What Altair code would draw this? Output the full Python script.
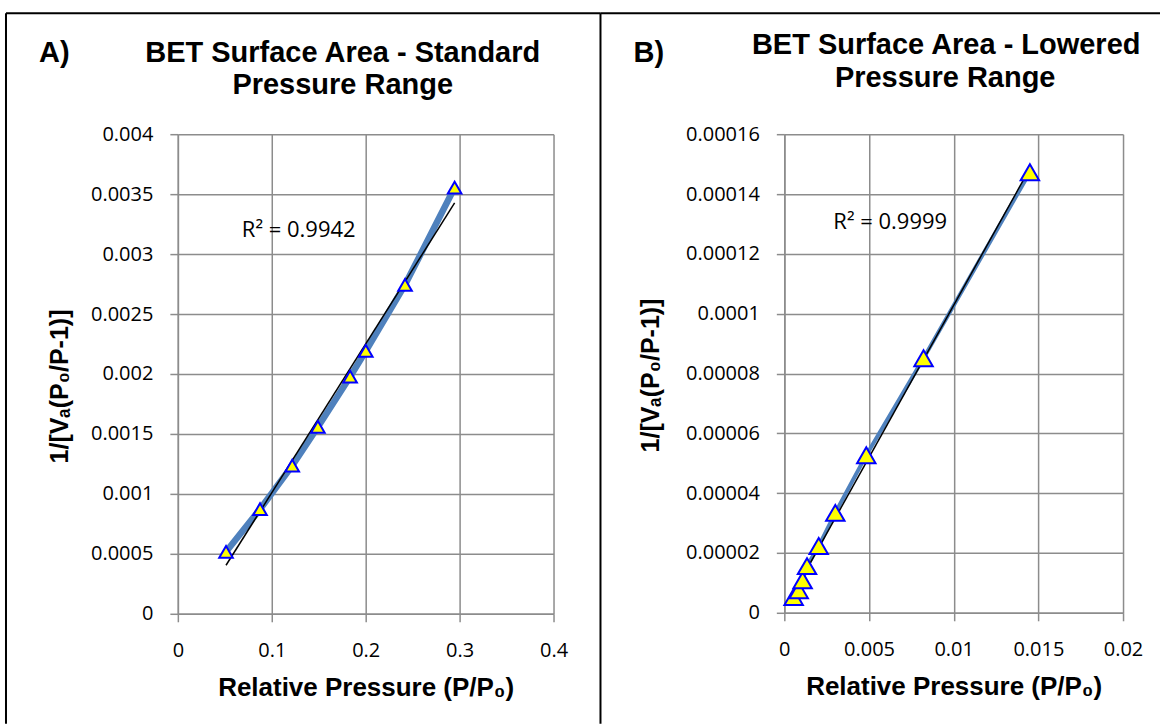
import altair as alt
import pandas as pd

# ---------------- data ----------------
a_x = [0.0513, 0.0875, 0.1218, 0.1491, 0.1834, 0.2001, 0.2419, 0.2947]
a_y = [0.000517, 0.000872, 0.001236, 0.001558, 0.001978, 0.002192, 0.002744, 0.003555]

b_x = [0.00055, 0.00085, 0.00108, 0.00134, 0.00203, 0.00301, 0.00484, 0.00822, 0.0145]
b_y = [0.0000053, 0.0000075, 0.0000109, 0.0000156, 0.0000223, 0.0000334, 0.0000527, 0.0000851, 0.0001473]

a_xticks = [0, 0.1, 0.2, 0.3, 0.4]
a_yticks = [0, 0.0005, 0.001, 0.0015, 0.002, 0.0025, 0.003, 0.0035, 0.004]
b_xticks = [0, 0.005, 0.01, 0.015, 0.02]
b_yticks = [0, 0.00002, 0.00004, 0.00006, 0.00008, 0.0001, 0.00012, 0.00014, 0.00016]

a_title = ["BET Surface Area - Standard", "Pressure Range"]
b_title = ["BET Surface Area - Lowered", "Pressure Range"]
a_tag, b_tag = "A)", "B)"
a_r2, b_r2 = "R² = 0.9942", "R² = 0.9999"
x_title = "Relative Pressure (P/P₀)"
y_title = "1/[Vₐ(P₀/P-1)]"

# ---------------- styling ----------------
GRID = "#8c8c8c"
BLUE = "#4f81bd"
TICKFONT = "Open Sans"
TITLEFONT = "Liberation Sans"


def make_axis(values, orient, title_x=None, title_y=None):
    kw = dict(
        values=values, format="~g", grid=True, gridColor=GRID, gridWidth=1.5,
        domainColor=GRID, domainWidth=1.5, tickColor=GRID, tickWidth=1.5, tickSize=8,
        labelFont=TICKFONT, labelFontSize=20, labelColor="black",
        labelOverlap=False, labelFlush=False,
        title=x_title if orient == "x" else y_title,
        titleFont=TITLEFONT, titleFontWeight="bold", titleFontSize=26 if orient == "x" else 25,
        titleColor="black", titleBaseline="alphabetic",
    )
    if orient == "x":
        kw.update(labelBaseline="alphabetic", labelPadding=35, titleY=title_y)
    else:
        kw.update(labelPadding=17, titleX=title_x, titleY=title_y, titleAngle=270)
    return alt.Axis(**kw)


def text_layer(txt, x, y, size, font, weight, align="center", baseline="alphabetic"):
    return alt.Chart(pd.DataFrame({"t": [txt]})).mark_text(
        font=font, fontSize=size, fontWeight=weight, align=align,
        baseline=baseline, color="black"
    ).encode(x=alt.value(x), y=alt.value(y), text="t:N")


def rule_v(x, y1, y2):
    return alt.Chart(pd.DataFrame({"k": [0]})).mark_rule(color="black", strokeWidth=2).encode(
        x=alt.value(x), y=alt.value(y1), y2=alt.value(y2))


def rule_h(y, x1, x2):
    return alt.Chart(pd.DataFrame({"k": [0]})).mark_rule(color="black", strokeWidth=2).encode(
        y=alt.value(y), x=alt.value(x1), x2=alt.value(x2))


def panel(xs, ys, xticks, yticks, width, height, line_w, pt_size,
          ytitle_x, ytitle_y, title, tag, r2, r2pos, tpos, borders):
    df = pd.DataFrame({"x": xs, "y": ys})
    xenc = alt.X("x:Q", scale=alt.Scale(domain=[xticks[0], xticks[-1]], nice=False, zero=False),
                 axis=make_axis(xticks, "x", title_y=82))
    yenc = alt.Y("y:Q", scale=alt.Scale(domain=[yticks[0], yticks[-1]], nice=False, zero=False),
                 axis=make_axis(yticks, "y", title_x=ytitle_x, title_y=ytitle_y))
    base = alt.Chart(df)
    line = base.mark_line(color=BLUE, strokeWidth=line_w).encode(x=xenc, y=yenc)
    trend = base.transform_regression("x", "y", method="linear").mark_line(
        color="black", strokeWidth=1.5).encode(x="x:Q", y="y:Q")
    pts = base.mark_point(shape="triangle-up", filled=True, fill="#ffff00", stroke="#0000ff",
                          strokeWidth=2, size=pt_size, opacity=1).encode(x="x:Q", y="y:Q")
    layers = [line, trend, pts,
              text_layer(r2, r2pos[0], r2pos[1], 22, TICKFONT, "normal", baseline="middle"),
              text_layer(tag, tpos[0], tpos[1], 29, TITLEFONT, "bold", align="left"),
              text_layer(title[0], tpos[2], tpos[3], 29, TITLEFONT, "bold"),
              text_layer(title[1], tpos[4], tpos[5], 29, TITLEFONT, "bold")]
    layers += borders
    return alt.layer(*layers).properties(width=width, height=height)


chart_a = panel(a_x, a_y, a_xticks, a_yticks, 376, 480, 6.5, 185,
                -110, 252, a_title, a_tag, a_r2, (121, 96),
                (-139, -72, 165, -72, 165, -40),
                [rule_v(-172, -121, 590), rule_h(-121, -172, 423)])
chart_b = panel(b_x, b_y, b_xticks, b_yticks, 339, 479, 4, 340,
                -126, 241, b_title, b_tag, b_r2, (106, 88),
                (-151, -72, 162, -80, 161, -47),
                [rule_v(-184, -121, 590), rule_h(-121, -184, 376)])

chart = alt.hconcat(chart_a, chart_b, spacing=231, bounds="flush").properties(
    padding={"left": 4, "top": 11, "right": 0, "bottom": 0},
    background="white",
).configure_view(stroke="transparent")

chart.save("out.html", embed_options={"renderer": "svg", "actions": False})
